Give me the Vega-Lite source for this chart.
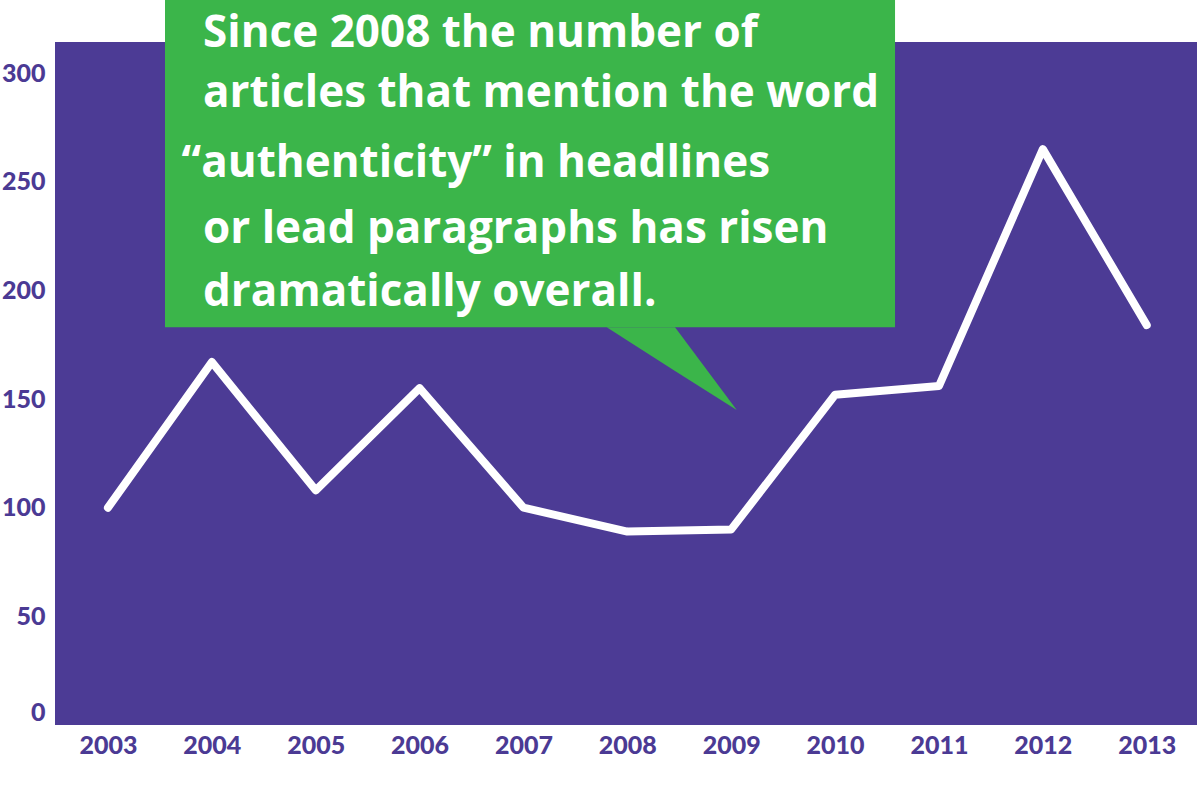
{
  "$schema": "https://vega.github.io/schema/vega-lite/v6.json",
  "width": 1142,
  "height": 683,
  "autosize": {"type": "none"},
  "padding": {"left": 55, "top": 42, "right": 0, "bottom": 60},
  "background": "white",
  "view": {"fill": "#4c3b95", "stroke": null},
  "datasets": {
    "articles": [
      {"year": 2003, "count": 100},
      {"year": 2004, "count": 167},
      {"year": 2005, "count": 108},
      {"year": 2006, "count": 155},
      {"year": 2007, "count": 100},
      {"year": 2008, "count": 89},
      {"year": 2009, "count": 90},
      {"year": 2010, "count": 152},
      {"year": 2011, "count": 156},
      {"year": 2012, "count": 265},
      {"year": 2013, "count": 184}
    ],
    "callout": [
      {"year": 2003.549, "year2": 2010.577, "count": 183, "count2": 334}
    ],
    "pointer": [
      {"year": 2007.801, "top": 183, "bottom": 183},
      {"year": 2008.459, "top": 183, "bottom": 162.9},
      {"year": 2009.053, "top": 144.9, "bottom": 144.9}
    ],
    "note": [
      {"line": "Since 2008 the number of", "year": 2003.915, "count": 312.0},
      {"line": "articles that mention the word", "year": 2003.915, "count": 284.6},
      {"line": "\u201cauthenticity\u201d in headlines", "year": 2003.709, "count": 252.2},
      {"line": "or lead paragraphs has risen", "year": 2003.915, "count": 221.8},
      {"line": "dramatically overall.", "year": 2003.915, "count": 192.7}
    ]
  },
  "config": {
    "axis": {
      "labelFont": "Lato",
      "labelFontWeight": 900,
      "labelFontSize": 25,
      "labelColor": "#4b3a94",
      "grid": false,
      "ticks": false,
      "domain": false,
      "title": null
    }
  },
  "layer": [
    {
      "data": {"name": "articles"},
      "mark": {"type": "line", "color": "white", "strokeWidth": 8, "strokeCap": "round", "strokeJoin": "round", "clip": false},
      "encoding": {
        "x": {
          "field": "year",
          "type": "quantitative",
          "scale": {"domain": [2002.49, 2013.484], "nice": false, "zero": false},
          "axis": {"values": [2003, 2004, 2005, 2006, 2007, 2008, 2009, 2010, 2011, 2012, 2013], "format": "d", "labelPadding": 8}
        },
        "y": {
          "field": "count",
          "type": "quantitative",
          "scale": {"domain": [0, 314.3], "nice": false},
          "axis": {"values": [0, 50, 100, 150, 200, 250, 300], "labelPadding": 10, "labelFlush": true}
        }
      }
    },
    {
      "data": {"name": "callout"},
      "mark": {"type": "rect", "color": "#3bb54a", "clip": false},
      "encoding": {
        "x": {"field": "year", "type": "quantitative"},
        "x2": {"field": "year2"},
        "y": {"field": "count", "type": "quantitative"},
        "y2": {"field": "count2"}
      }
    },
    {
      "data": {"name": "pointer"},
      "mark": {"type": "area", "color": "#3bb54a", "clip": false},
      "encoding": {
        "x": {"field": "year", "type": "quantitative"},
        "y": {"field": "top", "type": "quantitative"},
        "y2": {"field": "bottom"}
      }
    },
    {
      "data": {"name": "note"},
      "mark": {"type": "text", "color": "white", "font": "Open Sans", "fontWeight": 700, "fontSize": 44, "align": "left", "baseline": "alphabetic", "clip": false},
      "encoding": {
        "x": {"field": "year", "type": "quantitative"},
        "y": {"field": "count", "type": "quantitative"},
        "text": {"field": "line"}
      }
    }
  ]
}
